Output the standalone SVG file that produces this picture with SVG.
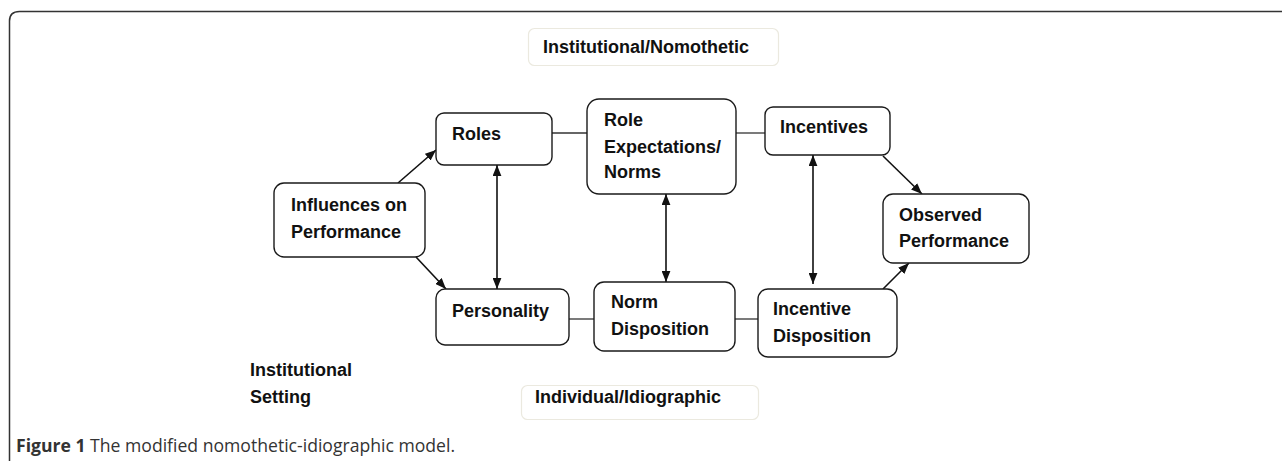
<svg xmlns="http://www.w3.org/2000/svg" width="1282" height="461" viewBox="0 0 1282 461">
<defs>
<style>
.node rect{fill:#fff;stroke:#1a1a1a;stroke-width:1.4}
.lbl rect{fill:#fff;stroke:#ebe9df;stroke-width:1.2}
.t{font-family:"Liberation Sans",Arial,sans-serif;font-weight:bold;font-size:18px;fill:#111}
.conn line{stroke:#111;stroke-width:1.6}
.plain line{stroke:#333;stroke-width:1.3}
.cap{font-family:"Open Sans","Noto Sans",sans-serif;font-size:17.6px;fill:#333}
</style>
<marker id="ah" viewBox="0 0 10 8" refX="10" refY="4" markerWidth="11" markerHeight="9" markerUnits="userSpaceOnUse" orient="auto-start-reverse">
<path d="M0,0 L10,4 L0,8 z" fill="#111"/>
</marker>
</defs>
<rect width="1282" height="461" fill="#fff"/>
<path d="M9.5 461 L9.5 21 Q9.5 11.5 19.5 11.5 L1282 11.5" fill="none" stroke="#333" stroke-width="1.5"/>
<g id="connectors">
<g class="plain">
<line x1="552" y1="133" x2="587" y2="133"/>
<line x1="736" y1="133" x2="765" y2="133"/>
<line x1="569" y1="319" x2="594" y2="319"/>
<line x1="735" y1="319" x2="758" y2="319"/>
</g>
<g class="conn">
<line x1="398" y1="183" x2="436" y2="150" marker-end="url(#ah)"/>
<line x1="416" y1="257" x2="446" y2="289" marker-end="url(#ah)"/>
<line x1="497" y1="165" x2="497" y2="289" marker-start="url(#ah)" marker-end="url(#ah)"/>
<line x1="666" y1="194" x2="666" y2="282" marker-start="url(#ah)" marker-end="url(#ah)"/>
<line x1="813" y1="155" x2="813" y2="284" marker-start="url(#ah)" marker-end="url(#ah)"/>
<line x1="883" y1="156" x2="922" y2="194" marker-end="url(#ah)"/>
<line x1="883" y1="289" x2="909" y2="263" marker-end="url(#ah)"/>
</g>
</g>
<g id="label-nomothetic" class="lbl">
<rect x="528.5" y="28.5" width="250" height="37" rx="6"/>
<text class="t" x="543" y="53">Institutional/Nomothetic</text>
</g>
<g id="label-idiographic" class="lbl">
<rect x="521.5" y="385.5" width="237" height="34" rx="6"/>
<text class="t" x="535" y="403">Individual/Idiographic</text>
</g>
<g id="label-setting">
<text class="t" x="250" y="376">Institutional</text>
<text class="t" x="250" y="403">Setting</text>
</g>
<g id="node-influences" class="node">
<rect x="274" y="183" width="151" height="74" rx="10"/>
<text class="t" x="291" y="211">Influences on</text>
<text class="t" x="291" y="238">Performance</text>
</g>
<g id="node-roles" class="node">
<rect x="436" y="113" width="116" height="52" rx="8"/>
<text class="t" x="452" y="140">Roles</text>
</g>
<g id="node-role-expectations" class="node">
<rect x="587" y="99" width="149" height="95" rx="12"/>
<text class="t" x="604" y="126">Role</text>
<text class="t" x="604" y="153">Expectations/</text>
<text class="t" x="604" y="178">Norms</text>
</g>
<g id="node-incentives" class="node">
<rect x="765" y="107" width="125" height="48" rx="8"/>
<text class="t" x="780" y="133">Incentives</text>
</g>
<g id="node-observed" class="node">
<rect x="883" y="194" width="146" height="69" rx="10"/>
<text class="t" x="899" y="221">Observed</text>
<text class="t" x="899" y="247">Performance</text>
</g>
<g id="node-personality" class="node">
<rect x="436" y="289" width="133" height="56" rx="9"/>
<text class="t" x="452" y="317">Personality</text>
</g>
<g id="node-norm-disposition" class="node">
<rect x="594" y="282" width="141" height="69" rx="10"/>
<text class="t" x="611" y="308">Norm</text>
<text class="t" x="611" y="335">Disposition</text>
</g>
<g id="node-incentive-disposition" class="node">
<rect x="758" y="289" width="139" height="68" rx="10"/>
<text class="t" x="773" y="315">Incentive</text>
<text class="t" x="773" y="342">Disposition</text>
</g>
<text class="cap" x="16" y="452"><tspan font-weight="bold">Figure 1</tspan> The modified nomothetic-idiographic model.</text>
</svg>
